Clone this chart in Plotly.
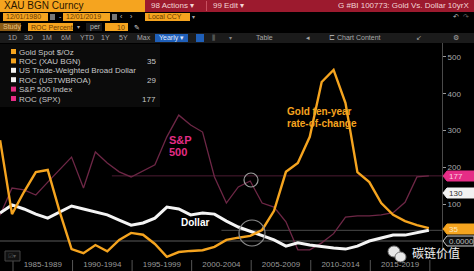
import plotly.graph_objects as go

# ---------------- data ----------------
years = list(range(1983, 2020))  # yearly points, plotted at 1 December of each year
gold_roc = [274, 73, 133, 187, 193, 80, -22, -33, -11, -28, 3, 22, 17, -8, -43, -30, -27,
            -25, -16, 3, 9, 14, 30, 82, 188, 212, 283, 432, 465, 375, 187, 160, 103, 71,
            54, 43, 35]
dollar_roc = [76, 98, 87, 73, 62, 79, 95, 87, 79, 71, 57, 43, 49, 62, 92, 87, 71,
              76, 73, 54, 38, 27, 14, 3, -14, -5, -11, -16, -19, -22, -14, 0, 8, 16,
              16, 22, 29]
spx_roc = [70, 144, 139, 125, 160, 193, 228, 144, 242, 212, 188, 174, 190, 207, 283, 342, 315,
           296, 174, 103, 147, 163, 103, 92, 52, -24, -24, -5, 20, 65, 68, 68, 71, 77,
           105, 174, 177]
period_labels = ["1985-1989", "1990-1994", "1995-1999", "2000-2004",
                 "2005-2009", "2010-2014", "2015-2019"]
period_starts = [1985, 1990, 1995, 2000, 2005, 2010, 2015]
y_ticks = [100, 200, 300, 400, 500]
dollar_level_label = "130"
legend_names = ["Gold Spot $/Oz", "ROC (XAU BGN)", "US Trade-Weighted Broad Dollar",
                "ROC (USTWBROA)", "S&P 500 Index", "ROC (SPX)"]
legend_values = ["", "35", "", "29", "", "177"]

# ---------------- geometry helpers ----------------
W, H = 474, 271
ML, MR, MT, MB = 0, 32, 43, 13
PW, PH = W - ML - MR, H - MT - MB

def XP(px):
    return (px - ML) / PW

def YP(py):
    return (H - MB - py) / PH

xdec = [y + 11 / 12 for y in years]
ORANGE = "#f5a41f"
PINK = "#e52c86"
MAROON = "#6e2746"
FONT = "Liberation Sans, Arial, sans-serif"

fig = go.Figure()
fig.add_trace(go.Scatter(x=xdec, y=spx_roc, mode="lines",
                         line=dict(color=MAROON, width=1.3), hoverinfo="skip"))
fig.add_trace(go.Scatter(x=xdec, y=dollar_roc, mode="lines",
                         line=dict(color="#f4f4f4", width=3), hoverinfo="skip"))
fig.add_trace(go.Scatter(x=xdec, y=gold_roc, mode="lines",
                         line=dict(color=ORANGE, width=2.4), hoverinfo="skip"))

shapes = []
annos = []

def rect(x0, y0, x1, y1, fill, line=None, lw=0):
    shapes.append(dict(type="rect", xref="paper", yref="paper",
                       x0=XP(x0), x1=XP(x1), y0=YP(y1), y1=YP(y0),
                       fillcolor=fill, line=dict(color=line or fill, width=lw),
                       layer="above"))

def text(x, y, s, color="#cccccc", size=8, anchor="left", bold=False, font=FONT, bg=None):
    annos.append(dict(xref="paper", yref="paper", x=XP(x), y=YP(y), text=(f"<b>{s}</b>" if bold else s),
                      showarrow=False, xanchor=anchor, yanchor="middle",
                      font=dict(color=color, size=size, family=font),
                      bgcolor=bg, borderpad=0))

# reference lines
shapes.append(dict(type="line", xref="paper", yref="y", x0=0, x1=1, y0=0, y1=0,
                   line=dict(color="#5a5a5a", width=1), layer="below"))
shapes.append(dict(type="line", xref="x", yref="y", x0=2002.5, x1=2021.02,
                   y0=dollar_roc[-1], y1=dollar_roc[-1],
                   line=dict(color="#4a4a4a", width=1), layer="below"))
shapes.append(dict(type="line", xref="x", yref="y", x0=1993.3, x1=2021.02,
                   y0=spx_roc[-1], y1=spx_roc[-1],
                   line=dict(color="#4d1c33", width=1), layer="below"))

# ---------------- header ----------------
rect(0, 0, 145, 12, ORANGE)
text(3, 6, "XAU BGN Curncy", color="#2a1600", size=10)
rect(145, 0, 474, 12, "#9c1a2e")
text(150, 6, "98 Actions ▾", color="#f3d6d6", size=8)
rect(206, 1, 207, 11, "#c85060")
text(212, 6, "99 Edit ▾", color="#f3d6d6", size=8)
text(470, 6, "G #BI 100773: Gold Vs. Dollar 10yrX", color="#f3d6d6", size=8, anchor="right")
rect(0, 12, 474, 33, "#000000")
# row 2
rect(3, 13, 48, 21, ORANGE)
text(5, 17, "12/01/1980", color="#6a3a00", size=7)
rect(50, 14, 55, 20, "#777777")
text(58, 17, "-", color="#cccccc", size=7)
rect(63, 13, 110, 21, ORANGE)
text(65, 17, "12/01/2019", color="#6a3a00", size=7)
rect(112, 14, 117, 20, "#777777")
text(119, 17, "‹", color="#cccccc", size=7)
text(129, 17, "›", color="#cccccc", size=7)
rect(145, 13, 190, 21, ORANGE)
text(147, 17, "Local CCY", color="#6a3a00", size=7)
text(191, 17, "▾", color="#aaaaaa", size=6)
text(452, 17, "↶", color="#bbbbbb", size=7)
text(462, 17, "↷", color="#666666", size=7)
# row 3
rect(0, 23, 21, 31, "#8a5a14")
text(2, 27, "Study", color="#e8c080", size=7)
rect(28, 23, 73, 31, ORANGE)
text(30, 27, "ROC Percent", color="#6a3a00", size=7)
text(76, 27, "▾", color="#aaaaaa", size=6)
rect(86, 23, 102, 31, "#1a1a1a")
text(89, 27, "per", color="#bbbbbb", size=7)
rect(105, 23, 128, 31, ORANGE)
text(126, 27, "10", color="#6a3a00", size=7, anchor="right")
text(133, 27, "✎", color="#dddddd", size=7)
# row 4 toolbar
rect(0, 33, 474, 43, "#1b1b1b")
for lbl, px in [("1D", 7), ("3D", 23), ("1M", 41), ("6M", 60), ("YTD", 79), ("1Y", 100),
                ("5Y", 118), ("Max", 136)]:
    text(px, 38, lbl, color="#a8a8a8", size=7)
rect(155, 34, 188, 42, "#1f5fb8")
text(158, 38, "Yearly ▾", color="#e0e8ff", size=7)
rect(196, 34, 204, 42, "#1f5fb8")
text(211, 38, "⫼", color="#888888", size=7)
text(228, 38, "▾", color="#888888", size=6)
text(255, 38, "Table", color="#a8a8a8", size=7)
text(305, 38, "◂", color="#a8a8a8", size=7)
text(328, 38, "⊏ Chart Content", color="#a8a8a8", size=7)
text(415, 38, "↙", color="#a8a8a8", size=7)
text(452, 38, "⚙", color="#a8a8a8", size=7)

# ---------------- legend box ----------------
rect(0, 44, 160, 107, "#0b0b0b")
leg_colors = [ORANGE, ORANGE, "#f4f4f4", "#f4f4f4", PINK, PINK]
for i, (nm, val, col) in enumerate(zip(legend_names, legend_values, leg_colors)):
    yy = 52 + i * 9.4
    rect(11, yy - 3, 16, yy + 2, col)
    text(18, yy, nm, color="#c8c8c8", size=8)
    if val:
        text(157, yy, val, color="#c8c8c8", size=8, anchor="right")

# ---------------- chart annotations ----------------
text(168, 140, "S&P", color=PINK, size=11, bold=True)
text(168, 152, "500", color=PINK, size=11, bold=True)
text(286, 111, "Gold ten-year", color=ORANGE, size=10, bold=True)
text(286, 123, "rate-of-change", color=ORANGE, size=10, bold=True)
text(180, 223, "Dollar", color="#ffffff", size=10, bold=True)
shapes.append(dict(type="circle", xref="paper", yref="paper",
                   x0=XP(244), x1=XP(258), y0=YP(187), y1=YP(173),
                   line=dict(color="#9a9a9a", width=1.2)))
shapes.append(dict(type="circle", xref="paper", yref="paper",
                   x0=XP(239), x1=XP(265), y0=YP(246), y1=YP(220),
                   line=dict(color="#8a8a8a", width=1.2)))

# ---------------- right axis value tags ----------------
def tag(py, s, fill, tcol, border=None):
    shapes.append(dict(type="path", xref="paper", yref="paper",
                       path=f"M {XP(443)} {YP(py)} L {XP(447)} {YP(py-5)} L {XP(474)} {YP(py-5)} "
                            f"L {XP(474)} {YP(py+5)} L {XP(447)} {YP(py+5)} Z",
                       fillcolor=fill, line=dict(color=border or fill, width=1), layer="above"))
    text(448, py, s, color=tcol, size=8)

tag(176, str(spx_roc[-1]), PINK, "#f8d0e0")
tag(193, dollar_level_label, "#f2f2f2", "#333333")
tag(229, str(gold_roc[-1]), ORANGE, "#fbe6c0")
tag(241, "0.0000", "#101010", "#bbbbbb", border="#cccccc")

# ---------------- x band separators ----------------
for s in period_starts + [2020]:
    shapes.append(dict(type="line", xref="x", yref="paper", x0=s, x1=s,
                       y0=YP(271), y1=YP(260), line=dict(color="#555555", width=1)))
rect(5, 251, 20, 261, "#111111", line="#444444", lw=1)
text(7, 256, "☑▾", color="#555555", size=6)

# ---------------- watermark ----------------
shapes.append(dict(type="circle", xref="paper", yref="paper",
                   x0=XP(388), x1=XP(400), y0=YP(257), y1=YP(246),
                   fillcolor="#e8e8e8", line=dict(color="#777777", width=1), layer="above"))
shapes.append(dict(type="circle", xref="paper", yref="paper",
                   x0=XP(395), x1=XP(406), y0=YP(262), y1=YP(252),
                   fillcolor="#e8e8e8", line=dict(color="#777777", width=1), layer="above"))
text(411, 252.5, "碳链价值", color="#f0f0f0", size=12, font="Noto Sans CJK SC")

fig.update_layout(
    width=W, height=H,
    margin=dict(l=ML, r=MR, t=MT, b=MB, pad=0),
    paper_bgcolor="#000000", plot_bgcolor="#000000",
    showlegend=False,
    shapes=shapes, annotations=annos,
    font=dict(family=FONT, color="#aaaaaa"),
    xaxis=dict(range=[1983.908, 2021.02], showgrid=False, zeroline=False,
               tickvals=[p + 2.5 for p in period_starts], ticktext=period_labels,
               ticks="", tickfont=dict(size=8, color="#9a9a9a"), showline=False),
    yaxis=dict(range=[-46.2, 538.0], side="right", showgrid=False, zeroline=False,
               tickvals=y_ticks, ticks="outside", ticklen=3, tickcolor="#999999",
               tickfont=dict(size=8, color="#a8a8a8"), showline=True, linecolor="#4a4a4a",
               linewidth=1),
)

fig.write_html("out.html")
